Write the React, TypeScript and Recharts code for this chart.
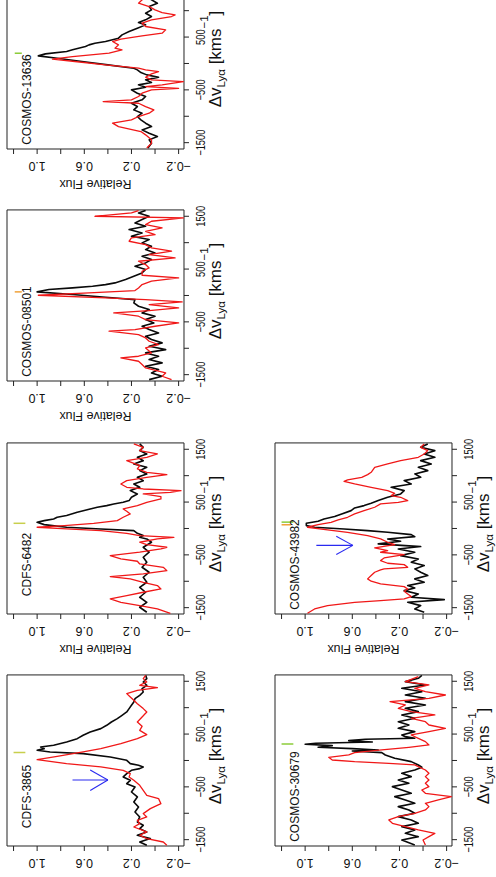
import React from 'react';
import { LineChart, Line, XAxis, YAxis, ReferenceArea, ReferenceLine, ReferenceDot } from 'recharts';

type Pair = [number, number];

// ---------------- data: [velocity km/s, relative flux] ----------------
const cdfs3865Black: Pair[] = [[-1607,0.07],[-1544,0.13],[-1480,0.04],[-1417,0.15],[-1354,0.07],[-1291,0.13],[-1228,0.10],[-1165,0.15],[-1070,0.13],[-975,0.17],[-881,0.14],[-786,0.18],[-691,0.15],[-597,0.20],[-502,0.17],[-439,0.24],[-376,0.21],[-312,0.27],[-249,0.24],[-186,0.20],[-155,0.13],[-123,0.10],[-92,0.14],[-60,0.21],[3,0.24],[66,0.38],[129,0.61],[161,0.89],[193,1.0],[224,0.94],[256,0.97],[287,0.86],[350,0.75],[413,0.66],[477,0.61],[540,0.55],[603,0.46],[666,0.41],[729,0.37],[792,0.32],[855,0.28],[919,0.24],[982,0.22],[1045,0.20],[1108,0.18],[1171,0.17],[1234,0.13],[1297,0.10],[1360,0.11],[1424,0.07],[1487,0.10],[1550,0.07],[1613,0.08]];
const cdfs3865Red: Pair[] = [[-1607,-0.10],[-1544,-0.07],[-1480,0.07],[-1417,0.13],[-1354,0.07],[-1260,0.18],[-1196,0.13],[-1133,0.15],[-1070,0.07],[-1007,0.10],[-912,0.04],[-818,-0.05],[-723,-0.03],[-660,0.07],[-565,0.10],[-470,0.13],[-376,0.18],[-312,0.22],[-249,0.21],[-186,0.27],[-123,0.46],[-60,0.75],[16,1.0],[79,0.83],[161,0.61],[224,0.46],[319,0.29],[413,0.15],[489,0.07],[571,0.13],[647,0.11],[729,0.15],[824,0.11],[919,0.07],[982,0.10],[1076,0.15],[1140,0.18],[1203,0.21],[1266,0.24],[1329,0.15],[1379,-0.02],[1424,0.13],[1487,0.07],[1550,0.10],[1613,0.08]];

const cdfs6482Black: Pair[] = [[-1587,0.07],[-1492,0.13],[-1398,0.07],[-1303,0.13],[-1208,0.08],[-1114,0.13],[-1019,0.07],[-924,0.10],[-829,0.05],[-735,0.11],[-640,0.07],[-545,0.10],[-450,0.05],[-356,0.10],[-261,0.03],[-198,0.07],[-167,0.13],[-135,0.10],[-91,0.15],[-40,0.18],[-9,0.46],[23,0.75],[73,0.94],[117,1.0],[149,0.94],[181,0.86],[212,0.83],[244,0.75],[307,0.66],[370,0.55],[402,0.49],[433,0.41],[465,0.35],[496,0.27],[528,0.22],[591,0.20],[654,0.15],[717,0.21],[780,0.13],[843,0.18],[906,0.10],[969,0.15],[1032,0.07],[1096,0.13],[1159,0.07],[1222,0.18],[1285,0.10],[1348,0.15],[1411,0.07],[1474,0.13],[1537,0.10],[1601,0.13]];
const cdfs6482Red: Pair[] = [[-1606,-0.13],[-1524,-0.02],[-1461,0.13],[-1398,0.29],[-1335,0.38],[-1271,0.24],[-1208,0.10],[-1145,-0.05],[-1082,-0.02],[-1019,0.10],[-955,0.21],[-911,0.38],[-861,0.10],[-798,-0.10],[-735,-0.07],[-672,0.13],[-621,0.15],[-577,0.29],[-514,0.38],[-450,0.13],[-388,-0.05],[-356,-0.10],[-306,0.07],[-261,0.13],[-198,-0.02],[-167,-0.16],[-135,0.13],[-91,0.24],[-40,0.46],[-9,0.75],[23,1.0],[54,0.77],[98,0.52],[149,0.32],[212,0.27],[275,0.21],[326,0.24],[370,0.27],[433,0.15],[496,0.07],[559,-0.05],[604,-0.05],[654,0.10],[685,-0.13],[717,-0.22],[748,0.10],[780,0.24],[843,0.29],[906,0.24],[969,0.07],[1020,-0.10],[1064,0.07],[1127,0.15],[1190,0.13],[1285,0.24],[1348,0.07],[1411,-0.02],[1474,0.13],[1537,0.10],[1601,0.18]];

const cosmos08501Black: Pair[] = [[-1594,0.05],[-1530,-0.06],[-1467,0.03],[-1404,-0.03],[-1340,0.08],[-1277,-0.06],[-1214,0.05],[-1151,-0.03],[-1088,0.08],[-1025,-0.09],[-961,0.05],[-898,-0.06],[-835,0.03],[-772,0.08],[-709,-0.03],[-646,0.05],[-583,0.11],[-520,0.01],[-456,0.08],[-393,0.0],[-330,0.11],[-267,0.05],[-204,0.14],[-141,0.18],[-78,0.17],[-33,0.42],[17,0.70],[68,1.0],[112,0.90],[143,0.70],[175,0.53],[206,0.42],[238,0.34],[301,0.25],[364,0.18],[427,0.11],[491,0.08],[554,0.17],[617,0.08],[680,0.03],[743,0.11],[806,0.0],[869,0.08],[932,0.03],[996,0.11],[1059,0.05],[1122,0.20],[1185,0.11],[1248,0.22],[1311,0.08],[1374,0.17],[1437,0.11],[1500,0.05],[1564,0.14],[1610,0.08]];
const cosmos08501Red: Pair[] = [[-1594,-0.14],[-1530,-0.06],[-1467,-0.09],[-1372,0.08],[-1309,0.11],[-1246,0.14],[-1182,0.29],[-1151,0.14],[-1088,0.03],[-993,0.08],[-930,-0.03],[-867,0.05],[-804,0.08],[-741,0.14],[-677,0.39],[-646,0.17],[-583,0.0],[-520,-0.20],[-456,0.08],[-393,0.14],[-330,0.35],[-286,0.05],[-235,-0.20],[-172,0.05],[-122,-0.23],[-78,0.08],[-46,0.42],[4,0.99],[49,0.56],[93,0.17],[143,0.14],[206,0.11],[270,0.03],[333,-0.20],[383,0.11],[459,0.11],[522,0.05],[585,0.08],[648,0.14],[711,-0.17],[775,0.05],[838,-0.14],[901,0.03],[964,0.08],[1027,0.22],[1090,0.20],[1153,0.0],[1216,0.08],[1279,-0.06],[1343,0.08],[1406,0.03],[1469,-0.24],[1500,0.51],[1564,0.20],[1608,0.14]];

const cosmos13636Black: Pair[] = [[-1600,0.06],[-1510,0.03],[-1447,0.05],[-1384,-0.02],[-1321,0.05],[-1258,0.11],[-1195,0.03],[-1131,0.08],[-1068,0.12],[-1005,0.15],[-942,0.11],[-879,0.18],[-816,0.15],[-753,0.20],[-689,0.11],[-626,0.08],[-563,0.15],[-500,0.20],[-450,0.08],[-405,0.14],[-361,0.03],[-311,0.08],[-260,-0.03],[-216,0.07],[-172,0.12],[-121,0.15],[-90,0.18],[-27,0.40],[37,0.62],[100,0.83],[144,0.99],[182,0.93],[226,0.75],[258,0.70],[321,0.59],[352,0.56],[384,0.51],[415,0.42],[479,0.31],[542,0.28],[605,0.22],[668,0.15],[731,0.08],[775,0.14],[826,0.08],[889,0.03],[952,0.08],[1015,0.03],[1078,0.05],[1141,-0.02],[1205,0.03],[1300,0.07],[1400,0.02],[1500,0.06],[1600,0.03]];
const cosmos13636Red: Pair[] = [[-1600,0.07],[-1510,0.03],[-1447,0.03],[-1352,0.08],[-1289,0.12],[-1195,0.31],[-1131,0.36],[-1068,0.20],[-1005,0.14],[-942,0.05],[-879,0.01],[-816,0.08],[-753,0.14],[-721,0.44],[-689,0.20],[-626,0.14],[-563,0.11],[-500,0.03],[-470,-0.20],[-437,0.08],[-405,-0.06],[-342,-0.24],[-311,0.03],[-260,0.08],[-197,0.03],[-153,-0.03],[-121,0.08],[-90,0.14],[-27,0.42],[37,0.68],[81,0.87],[131,0.70],[194,0.39],[258,0.28],[289,0.34],[352,0.31],[415,0.36],[460,0.29],[523,0.11],[573,-0.06],[636,-0.09],[700,0.08],[763,0.11],[826,0.03],[889,-0.14],[920,-0.17],[965,-0.06],[1015,0.0],[1078,0.05],[1141,0.14],[1205,0.11],[1300,0.05],[1400,0.10],[1500,0.04],[1600,0.06]];

const cosmos30679Black: Pair[] = [[-1600,0.07],[-1506,0.18],[-1443,0.04],[-1380,0.15],[-1316,0.07],[-1253,0.18],[-1190,0.04],[-1127,0.10],[-1064,0.21],[-1001,0.07],[-938,0.12],[-874,0.21],[-811,0.07],[-748,0.15],[-685,0.24],[-622,0.10],[-559,0.18],[-496,0.26],[-432,0.12],[-369,0.21],[-306,0.10],[-243,0.18],[-180,0.07],[-129,0.01],[-85,0.04],[-22,0.10],[41,0.24],[104,0.32],[148,0.35],[180,0.60],[199,0.38],[224,0.60],[249,0.89],[281,0.77],[306,1.0],[325,0.91],[350,0.43],[376,0.63],[401,0.49],[420,0.07],[451,0.15],[483,0.18],[546,0.07],[609,0.21],[672,0.12],[735,0.21],[799,0.07],[862,0.18],[925,0.04],[988,0.15],[1051,-0.02],[1114,0.15],[1177,-0.02],[1240,0.15],[1303,0.01],[1367,0.18],[1430,-0.02],[1493,0.15],[1556,0.04],[1610,0.01]];
const cosmos30679Red: Pair[] = [[-1600,-0.02],[-1506,0.0],[-1443,-0.05],[-1380,-0.10],[-1316,0.04],[-1253,0.15],[-1190,0.26],[-1127,0.29],[-1064,0.21],[-1001,0.07],[-938,-0.02],[-874,-0.05],[-811,-0.02],[-748,-0.13],[-685,-0.24],[-622,-0.02],[-559,0.01],[-496,-0.05],[-432,-0.02],[-369,-0.05],[-306,-0.02],[-243,-0.05],[-180,-0.02],[-117,0.04],[-85,0.07],[-54,0.29],[-22,0.58],[9,0.77],[60,0.80],[104,0.63],[148,0.58],[199,0.35],[249,0.12],[294,-0.05],[357,-0.02],[420,0.04],[483,0.10],[546,-0.05],[609,-0.19],[672,-0.05],[735,-0.02],[799,0.10],[862,-0.10],[925,0.10],[988,0.21],[1051,0.15],[1114,0.28],[1177,-0.05],[1240,-0.19],[1303,-0.02],[1367,0.07],[1430,-0.05],[1493,0.15],[1588,0.04]];

const cosmos43982Black: Pair[] = [[-1587,-0.01],[-1524,0.07],[-1461,0.02],[-1398,0.13],[-1347,-0.18],[-1303,0.10],[-1240,0.04],[-1177,0.16],[-1126,0.07],[-1082,0.13],[-1019,-0.01],[-955,0.07],[-892,-0.04],[-829,0.02],[-766,0.07],[-703,-0.01],[-640,0.10],[-577,0.04],[-514,0.19],[-450,0.07],[-388,0.21],[-343,0.02],[-292,0.38],[-242,0.19],[-198,0.30],[-154,0.07],[-116,0.10],[-72,0.30],[-40,0.47],[-9,0.67],[23,0.92],[54,0.99],[98,0.99],[136,0.89],[181,0.84],[225,0.75],[275,0.69],[338,0.61],[389,0.58],[433,0.50],[477,0.44],[528,0.38],[591,0.30],[654,0.19],[717,0.16],[780,0.27],[843,0.10],[906,0.16],[969,0.02],[1033,0.07],[1096,-0.04],[1159,0.04],[1222,-0.07],[1285,0.02],[1348,-0.10],[1411,-0.01],[1474,-0.10],[1537,0.02],[1601,-0.04]];
const cosmos43982Red: Pair[] = [[-1606,0.98],[-1524,0.92],[-1461,0.81],[-1398,0.58],[-1366,0.36],[-1335,0.16],[-1290,0.10],[-1240,0.13],[-1189,0.16],[-1145,0.13],[-1101,0.16],[-1050,0.36],[-999,0.44],[-955,0.47],[-892,0.44],[-829,0.41],[-786,0.36],[-766,0.33],[-735,0.13],[-685,0.16],[-659,0.30],[-608,0.36],[-558,0.33],[-495,0.16],[-450,0.36],[-419,0.30],[-369,0.41],[-305,0.24],[-261,0.30],[-198,0.36],[-135,0.47],[-72,0.64],[-28,0.81],[23,0.98],[73,0.89],[117,0.78],[162,0.72],[212,0.64],[275,0.58],[338,0.50],[402,0.41],[465,0.36],[496,0.21],[528,0.13],[591,0.19],[622,0.27],[666,0.24],[717,0.30],[780,0.44],[843,0.58],[893,0.67],[919,0.64],[969,0.52],[1020,0.47],[1064,0.44],[1159,0.41],[1222,0.30],[1285,0.19],[1348,0.04],[1411,-0.01],[1474,-0.04],[1537,0.02],[1601,-0.01]];

// panel names, marker velocities (vertical ticks) and arrows
const PANEL_NAMES = ['CDFS-3865', 'CDFS-6482', 'COSMOS-08501', 'COSMOS-13636', 'COSMOS-30679', 'COSMOS-43982'];
const MARKERS: { v: number; f1: number; f2: number; color: string }[][] = [
  [{ v: 150, f1: 1.2, f2: 1.1, color: '#c8cf4c' }],
  [{ v: 98, f1: 1.2, f2: 1.1, color: '#c8cf4c' }],
  [{ v: 68, f1: 1.19, f2: 1.13, color: '#f0a23a' }],
  [{ v: 194, f1: 1.19, f2: 1.13, color: '#8ccc3a' }],
  [{ v: 312, f1: 1.2, f2: 1.1, color: '#8ccc3a' }],
  [{ v: 120, f1: 1.2, f2: 1.1, color: '#8ccc3a' }, { v: 70, f1: 1.2, f2: 1.12, color: '#f0a23a' }],
];
const ARROWS: ({ v: number; fFrom: number; fTip: number; fHead: number; vA: number; vB: number } | null)[] = [
  { v: -370, fFrom: 0.70, fTip: 0.40, fHead: 0.55, vA: -180, vB: -570 },
  null, null, null, null,
  { v: -320, fFrom: 0.905, fTip: 0.595, fHead: 0.736, vA: -148, vB: -495 },
];
const VEL_TICKS = [-1500, -1000, -500, 0, 500, 1000, 1500];
const VEL_LABELLED = [-1500, -500, 500, 1500];
const FLUX_TICKS = [-0.2, 0, 0.2, 0.4, 0.6, 0.8, 1.0, 1.2];
const FLUX_LABELLED = [-0.2, 0.2, 0.6, 1.0];
const VEL_DOMAIN: [number, number] = [-1620, 1620];
const FLUX_DOMAIN: [number, number] = [-0.2456, 1.2556];

const SERIES: { black: Pair[]; red: Pair[] }[] = [
  { black: cdfs3865Black, red: cdfs3865Red },
  { black: cdfs6482Black, red: cdfs6482Red },
  { black: cosmos08501Black, red: cosmos08501Red },
  { black: cosmos13636Black, red: cosmos13636Red },
  { black: cosmos30679Black, red: cosmos30679Red },
  { black: cosmos43982Black, red: cosmos43982Red },
];

// ---------------- layout (unrotated frame) ----------------
const FONT = '"Liberation Sans", Arial, Helvetica, sans-serif';
const PLOT_W = 171.07;
const PLOT_H = 177;
const YAX_W = 46;
const M_TOP = 6;
const M_RIGHT = 10;
const XAX_H = 52;
const CW = YAX_W + PLOT_W + M_RIGHT;
const CH = M_TOP + PLOT_H + XAX_H;
const PLOT_BOTTOM = M_TOP + PLOT_H;
const COL_LEFT = [30.96, 263.26, 495.56, 727.86];
const ROW_TOP = [6.5, 274.5];
const PAGE_W = 877;
const PLACE = [
  { row: 0, col: 0, fluxLabel: false },
  { row: 0, col: 1, fluxLabel: true },
  { row: 0, col: 2, fluxLabel: true },
  { row: 0, col: 3, fluxLabel: true },
  { row: 1, col: 0, fluxLabel: false },
  { row: 1, col: 1, fluxLabel: true },
];

const toPts = (p: Pair[]) => p.map(([v, f]) => ({ v, f }));

const makeVelTick = (chartLeft: number) => (props: any) => {
  const { x, payload } = props;
  const val = payload.value;
  if (!VEL_LABELLED.includes(val)) return <g />;
  // labels that would fall outside the page are not drawn (cropped in the source)
  if (chartLeft + x + 14 > PAGE_W) return <g />;
  const label = val < 0 ? `\u2212${Math.abs(val)}` : `${val}`;
  return (
    <text transform={`translate(${x},${PLOT_BOTTOM + 16}) scale(0.75,1)`} textAnchor="middle" dominantBaseline="central" fontSize={12.5} fill="#111" fontFamily={FONT}>
      {label}
    </text>
  );
};

const FluxTick = (props: any) => {
  const { y, payload } = props;
  const val = payload.value;
  if (!FLUX_LABELLED.some((t) => Math.abs(t - val) < 1e-6)) return <g />;
  const label = val < 0 ? `\u2212${Math.abs(val).toFixed(1)}` : val.toFixed(1);
  return (
    <text transform={`translate(${YAX_W - 16.5},${y}) rotate(-90)`} textAnchor="middle" dominantBaseline="central" fontSize={12.5} fill="#111" fontFamily={FONT}>
      {label}
    </text>
  );
};

const VelTitle = () => (
  <text x={YAX_W + PLOT_W / 2 + 4.5} y={PLOT_BOTTOM + 37} textAnchor="middle" fontSize={17} fill="#111" fontFamily={FONT}>
    <tspan>Δv</tspan>
    <tspan fontSize={11.5} dy={4}>Lyα</tspan>
    <tspan dy={-4}>{'\u00a0[kms'}</tspan>
    <tspan fontSize={11.5} dy={-13}>−1</tspan>
    <tspan dy={13}>]</tspan>
  </text>
);

const FluxTitle = () => (
  <text transform={`translate(${YAX_W - 34.5},${M_TOP + PLOT_H / 2}) rotate(-90)`} textAnchor="middle" dominantBaseline="central" fontSize={12.5} fill="#111" fontFamily={FONT}>
    Relative Flux
  </text>
);

const Panel = ({ idx }: { idx: number }) => {
  const place = PLACE[idx];
  const name = PANEL_NAMES[idx];
  const series = SERIES[idx];
  const arrow = ARROWS[idx];
  const left = COL_LEFT[place.col] - YAX_W;
  const top = ROW_TOP[place.row] - M_TOP;
  return (
    <div style={{ position: 'absolute', left, top, width: CW, height: CH }}>
      <LineChart width={CW} height={CH} margin={{ top: M_TOP, right: M_RIGHT, bottom: 0, left: 0 }}>
        <XAxis
          dataKey="v"
          type="number"
          domain={VEL_DOMAIN}
          ticks={VEL_TICKS}
          allowDataOverflow
          interval={0}
          tickSize={5}
          tickLine={{ stroke: '#222' }}
          axisLine={false}
          height={XAX_H}
          tick={makeVelTick(left)}
          label={() => <VelTitle />}
        />
        <YAxis
          type="number"
          domain={FLUX_DOMAIN}
          ticks={FLUX_TICKS}
          allowDataOverflow
          interval={0}
          width={YAX_W}
          tickSize={5}
          tickLine={{ stroke: '#222' }}
          axisLine={false}
          tick={FluxTick}
          label={place.fluxLabel ? () => <FluxTitle /> : undefined}
        />
        <Line data={toPts(series.black)} dataKey="f" stroke="#0a0a0a" strokeWidth={1.6} strokeLinejoin="round" dot={false} isAnimationActive={false} />
        <Line data={toPts(series.red)} dataKey="f" stroke="#f01818" strokeWidth={1.3} strokeLinejoin="round" dot={false} isAnimationActive={false} />
        {MARKERS[idx].map((m, i) => (
          <ReferenceLine key={`m${i}`} segment={[{ x: m.v, y: m.f1 }, { x: m.v, y: m.f2 }]} stroke={m.color} strokeWidth={1.5} />
        ))}
        {arrow && (
          <ReferenceLine segment={[{ x: arrow.v, y: arrow.fFrom }, { x: arrow.v, y: arrow.fTip }]} stroke="#2a2af0" strokeWidth={1.1} />
        )}
        {arrow && (
          <ReferenceLine segment={[{ x: arrow.vA, y: arrow.fHead }, { x: arrow.v, y: arrow.fTip }]} stroke="#2a2af0" strokeWidth={1.1} />
        )}
        {arrow && (
          <ReferenceLine segment={[{ x: arrow.vB, y: arrow.fHead }, { x: arrow.v, y: arrow.fTip }]} stroke="#2a2af0" strokeWidth={1.1} />
        )}
        <ReferenceDot
          x={-683}
          y={1.056}
          r={0}
          shape={(p: any) => (
            <text x={p.cx} y={p.cy} textAnchor="middle" fontSize={12} fill="#111" fontFamily={FONT}>
              {name}
            </text>
          )}
        />
        <ReferenceArea x1={VEL_DOMAIN[0]} x2={VEL_DOMAIN[1]} y1={FLUX_DOMAIN[0]} y2={FLUX_DOMAIN[1]} fill="none" stroke="#222" strokeWidth={1} ifOverflow="visible" />
      </LineChart>
    </div>
  );
};

export default function App() {
  return (
    <div style={{ position: 'absolute', left: 0, top: 0, width: 496, height: 877, overflow: 'hidden', background: '#fff' }}>
      <div
        style={{
          position: 'absolute',
          left: 0,
          top: 0,
          width: PAGE_W,
          height: 496,
          transformOrigin: '0 0',
          transform: `translate(0px, ${PAGE_W}px) rotate(-90deg)`,
        }}
      >
        {PANEL_NAMES.map((_, i) => (
          <Panel key={i} idx={i} />
        ))}
      </div>
    </div>
  );
}
